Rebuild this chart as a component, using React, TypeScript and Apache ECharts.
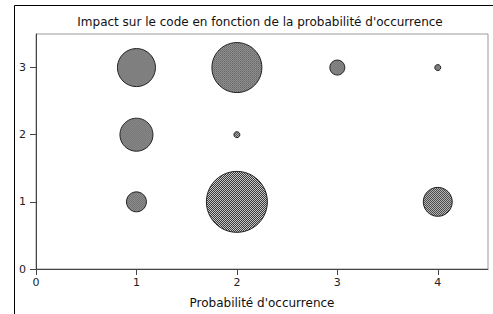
import React, { useEffect, useRef } from "react";
import * as echarts from "echarts";

const TITLE = "Impact sur le code en fonction de la probabilité d'occurrence";
const X_NAME = "Probabilité d'occurrence";
// probability (x), impact (y), bubble diameter in px
const probability = [1, 2, 3, 4, 1, 2, 1, 2, 4];
const impact = [3, 3, 3, 3, 2, 2, 1, 1, 1];
const bubbleSize = [38, 50, 15, 6, 33, 6, 20, 61, 29];

export default function App() {
  const ref = useRef<HTMLDivElement>(null);
  useEffect(() => {
    if (!ref.current) return;
    const chart = echarts.init(ref.current, undefined, { renderer: "svg" });
    const c = document.createElement("canvas");
    c.width = 2;
    c.height = 2;
    const ctx = c.getContext("2d")!;
    ctx.fillStyle = "#ffffff";
    ctx.fillRect(0, 0, 2, 2);
    ctx.fillStyle = "#000000";
    ctx.fillRect(0, 0, 1, 1);
    ctx.fillRect(1, 1, 1, 1);
    const data = probability.map((p, i) => {
      const s = bubbleSize[i];
      return {
        value: [p, impact[i], s],
        itemStyle: {
          color: { image: c, repeat: "repeat", scaleX: 2 / s, scaleY: 2 / s },
        },
      };
    });
    const font = "DejaVu Sans";
    chart.setOption({
      animation: false,
      backgroundColor: "#ffffff",
      title: {
        text: TITLE,
        left: 255,
        top: 11,
        textAlign: "center",
        textStyle: { fontFamily: font, fontSize: 12, fontWeight: "normal", color: "#111" },
      },
      graphic: [
        {
          type: "rect",
          shape: { x: 14.5, y: 5.5, width: 600, height: 400 },
          style: { fill: "none", stroke: "#000", lineWidth: 1 },
          silent: true,
        },
      ],
      grid: {
        left: 36,
        top: 34,
        right: 5,
        bottom: 45,
        show: true,
        borderColor: "#999",
        borderWidth: 1,
      },
      xAxis: {
        type: "value",
        min: 0,
        max: 4.5,
        interval: 1,
        name: X_NAME,
        nameLocation: "middle",
        nameGap: 28,
        nameTextStyle: { fontFamily: font, fontSize: 12, color: "#111" },
        splitLine: { show: false },
        axisLine: { show: true, onZero: false, lineStyle: { color: "#444" } },
        axisTick: { show: true, length: 6, lineStyle: { color: "#444" } },
        axisLabel: { fontFamily: font, fontSize: 11, color: "#222", margin: 8, showMaxLabel: false },
      },
      yAxis: {
        type: "value",
        min: 0,
        max: 3.5,
        interval: 1,
        splitLine: { show: false },
        axisLine: { show: true, onZero: false, lineStyle: { color: "#444" } },
        axisTick: { show: true, length: 6, lineStyle: { color: "#444" } },
        axisLabel: { fontFamily: font, fontSize: 11, color: "#222", margin: 10, showMaxLabel: false },
      },
      series: [
        {
          type: "scatter",
          data,
          symbol: "circle",
          symbolSize: (v: number[]) => v[2],
          itemStyle: {
            color: "#808080",
            borderColor: "#222",
            borderWidth: 1,
            opacity: 1,
          },
        },
      ],
    });
    return () => chart.dispose();
  }, []);
  return <div ref={ref} style={{ width: 493, height: 314, position: "absolute", left: 0, top: 0 }} />;
}
